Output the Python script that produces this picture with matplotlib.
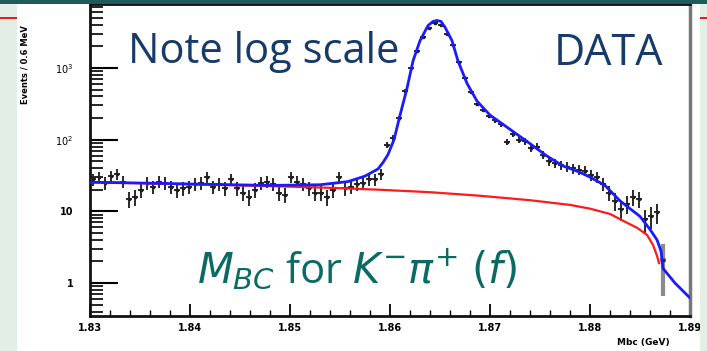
import numpy as np
import matplotlib as mpl
import matplotlib.pyplot as plt
from matplotlib.patches import Rectangle
from matplotlib.ticker import FixedLocator, NullFormatter

mpl.rcParams['mathtext.fontset'] = 'dejavusans'

# Mbc data, K- pi+ (f), bins of 0.6 MeV starting at 1.8303 GeV
bin_width = 0.0006
x_start = 1.8303
counts = [28, 30, 25, 31, 33, 26, 15, 16, 20, 25,
          22, 26, 25, 22, 20, 21, 22, 24, 25, 30,
          22, 24, 21, 28, 21, 18, 16, 20, 25, 26,
          24, 18, 17, 30, 26, 24, 21, 18, 18, 16,
          20, 30, 21, 22, 24, 25, 28, 28, 33, 85,
          105, 200, 480, 1000, 1750, 2700, 3600, 4300, 4000, 3000,
          2100, 1200, 720, 460, 310, 260, 215, 185, 165, 94,
          120, 100, 95, 76, 80, 62, 50, 47, 44, 42,
          40, 38, 37, 32, 30, 24, 18, 14, 10.7, 12.6,
          16, 15, 7.7, 8.5, 9.7, 2.1]

# total fit (blue)
fit_x = [1.8300, 1.8360, 1.8420, 1.8480, 1.8530, 1.8558, 1.8575, 1.8588,
         1.8593, 1.8598, 1.8604, 1.8610, 1.8617, 1.8623, 1.8630, 1.8638,
         1.8643, 1.8647, 1.8651, 1.8655, 1.8662, 1.8668, 1.8677, 1.8687,
         1.8700, 1.8710, 1.8723, 1.8740, 1.8757, 1.8773, 1.8790, 1.8800,
         1.8815, 1.8830, 1.8850, 1.8860, 1.8867, 1.8871, 1.8873, 1.8885,
         1.8900]
fit_y = [25.5, 24.7, 23.8, 23.0, 23.5, 26, 31, 39,
         48, 62, 100, 218, 520, 1250, 2400, 3900,
         4450, 4600, 4450, 3700, 2400, 1250, 610, 345,
         220, 175, 130, 88, 59, 43, 35, 30,
         23, 14, 8.5, 5.6, 4.0, 2.8, 1.6, 1.0,
         0.62]

# background (red)
bkg_x = [1.8300, 1.8360, 1.8420, 1.8480, 1.8540, 1.8590, 1.8640, 1.8690,
         1.8740, 1.8780, 1.8800, 1.8820, 1.8833, 1.8847, 1.8857, 1.8863,
         1.8867, 1.8869]
bkg_y = [25.5, 24.5, 23.5, 22.5, 21.3, 20, 18.5, 16.5,
         14.3, 12.3, 10.9, 9.2, 7.4, 5.9, 4.7, 3.4,
         2.4, 1.9]

xticks = [1.83, 1.84, 1.85, 1.86, 1.87, 1.88, 1.89]
xticklabels = ['1.83', '1.84', '1.85', '1.86', '1.87', '1.88', '1.89']
yticks = [1, 10, 100, 1000]
yticklabels = ['1', '10', r'$10^{2}$', r'$10^{3}$']

x = x_start + bin_width*np.arange(len(counts))
y = np.array(counts, dtype=float)
yerr_lo = np.minimum(np.sqrt(y), y*0.7)
yerr_hi = np.sqrt(y)

W, H = 707, 351
fig = plt.figure(figsize=(W/100, H/100), dpi=100)
fig.patch.set_facecolor('white')

# slide decoration
fig.patches.append(Rectangle((0, 0), 17/W, 1, transform=fig.transFigure,
                             facecolor='#e3eee6', edgecolor='none', zorder=0))
fig.patches.append(Rectangle((700/W, 0), 7/W, 1, transform=fig.transFigure,
                             facecolor='#e3eee6', edgecolor='none', zorder=0))
fig.patches.append(Rectangle((0, 1-4/H), 1, 4/H, transform=fig.transFigure,
                             facecolor='#1d5c58', edgecolor='none', zorder=0))
fig.patches.append(Rectangle((0, 1-19/H), 17/W, 2/H, transform=fig.transFigure,
                             facecolor='#e02020', edgecolor='none', zorder=0))
fig.patches.append(Rectangle((700/W, 1-19/H), 7/W, 2/H, transform=fig.transFigure,
                             facecolor='#e02020', edgecolor='none', zorder=0))

ax = fig.add_axes([90/W, 1-316/H, 600/W, 312/H])
ax.set_yscale('log')
ax.set_xlim(1.83, 1.89)
ax.set_ylim(0.347, 7800)

ax.errorbar(x[:-1], y[:-1], yerr=[yerr_lo[:-1], yerr_hi[:-1]], xerr=bin_width/2,
            fmt='s', ms=2, color='#202020', ecolor='#2a2a2a', elinewidth=1.4,
            capsize=0, zorder=3)
# last bin near the endpoint, drawn with a wide grey bar as in the original
ax.errorbar(x[-1:], y[-1:], yerr=[yerr_lo[-1:], yerr_hi[-1:]], xerr=bin_width/2,
            fmt='s', ms=2, color='#202020', ecolor='#8a8a8a', elinewidth=3,
            capsize=0, zorder=3)
ax.plot(bkg_x, bkg_y, color='#ff1a1a', lw=1.6, zorder=4)
ax.plot(fit_x, fit_y, color='#1a1aff', lw=2.0, zorder=5)

# axes styling (ROOT-like)
for s in ['left', 'bottom', 'top']:
    ax.spines[s].set_linewidth(2.0)
    ax.spines[s].set_color('#111111')
ax.spines['right'].set_linewidth(2.5)
ax.spines['right'].set_color('#777777')

ax.set_xticks(xticks)
ax.set_xticklabels(xticklabels, fontsize=7, fontweight='bold')
ax.xaxis.set_minor_locator(FixedLocator(np.arange(1.830, 1.8901, 0.002)))
ax.tick_params(axis='x', which='major', direction='in', length=9, width=1.3, pad=5)
ax.tick_params(axis='x', which='minor', direction='in', length=4, width=1.0)

ax.yaxis.set_major_locator(FixedLocator(yticks))
ax.set_yticklabels(yticklabels, fontsize=7, fontweight='bold')
minors = [m*10.0**e for e in range(-1, 4) for m in range(2, 10)]
ax.yaxis.set_minor_locator(FixedLocator(minors))
ax.yaxis.set_minor_formatter(NullFormatter())
ax.tick_params(axis='y', which='major', direction='in', length=20, width=1.5, pad=12)
ax.tick_params(axis='y', which='minor', direction='in', length=9, width=1.2)

fig.text(670/W, 1-343/H, 'Mbc (GeV)', ha='right', va='center', fontsize=6.5,
         fontweight='bold')
fig.text(25/W, 1-65/H, 'Events / 0.6 MeV', rotation=90, ha='center', va='center',
         fontsize=6, fontweight='bold')

# slide annotations
ax.text(128/W, 1-63/H, 'Note log scale', transform=fig.transFigure,
        fontsize=30, color='#163a6a', family='Open Sans', zorder=6)
ax.text(663/W, 1-65/H, 'DATA', transform=fig.transFigure, ha='right',
        fontsize=31, color='#163a6a', family='Open Sans', zorder=6)
ax.text(197/W, 1-283/H, r'$M_{BC}$ for $K^{-}\pi^{+}$ $(f)$',
        transform=fig.transFigure, fontsize=30, color='#0b6b62',
        family='Open Sans', zorder=6)

fig.savefig('out.png', dpi=100)
